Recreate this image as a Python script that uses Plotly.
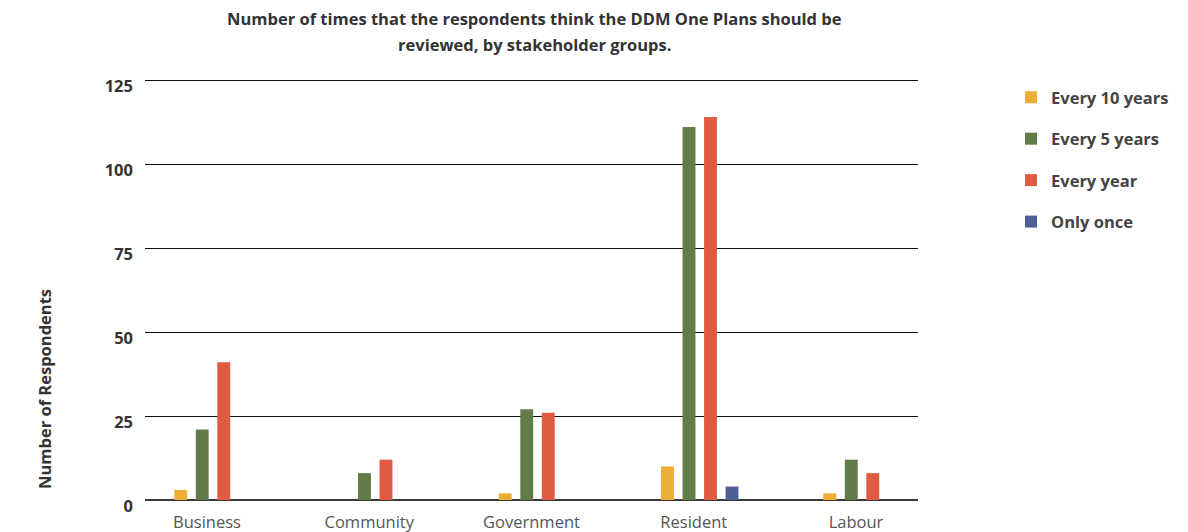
import plotly.graph_objects as go

# Stakeholder groups on the x axis
groups = ["Business", "Community", "Government", "Resident", "Labour"]

# Respondent counts per review frequency
every_10_years = [3, 0, 2, 10, 2]
every_5_years = [21, 8, 27, 111, 12]
every_year = [41, 12, 26, 114, 8]
only_once = [0, 0, 0, 4, 0]

series = [
    ("Every 10 years", every_10_years, "#EDAE36"),
    ("Every 5 years", every_5_years, "#627C48"),
    ("Every year", every_year, "#E05B42"),
    ("Only once", only_once, "#4E5F96"),
]

y_ticks = [0, 25, 50, 75, 100, 125]

title_lines = [
    "Number of times that the respondents think the DDM One Plans should be",
    "reviewed, by stakeholder groups.",
]

FONT = "'Open Sans', sans-serif"

fig = go.Figure()
for i, (name, vals, color) in enumerate(series):
    fig.add_trace(go.Bar(
        x=groups, y=vals, name=name,
        marker=dict(color=color, line=dict(width=0)),
        legendgroup=f"g{i}",
    ))

W, H = 1188, 532
left, right, top, bottom = 145, 918, 79, 500
plot_w, plot_h = right - left, bottom - top

fig.update_layout(
    width=W, height=H,
    paper_bgcolor="white", plot_bgcolor="white",
    barmode="group", bargap=0.47, bargroupgap=0.4,
    margin=dict(l=left, r=W - right, t=top, b=H - bottom, pad=0, autoexpand=False),
    font=dict(family=FONT, color="#333333"),
    xaxis=dict(
        range=[-0.419, 4.345],
        showgrid=False, zeroline=False,
        showline=False, ticks="",
        tickfont=dict(size=16.5, color="#555555", family=FONT),
        ticklabelstandoff=10,
        ticklabelshift=-6,
    ),
    yaxis=dict(
        range=[0, 125.3],
        tickvals=y_ticks,
        ticktext=[f"<b>{v}</b>" for v in y_ticks],
        showgrid=True, gridcolor="#111111", gridwidth=1,
        zeroline=True, zerolinecolor="#3a3a3a", zerolinewidth=1.8,
        showline=False, ticks="",
        tickfont=dict(size=16.5, color="#333333", family=FONT),
        ticklabelstandoff=11,
        ticklabelshift=6,
    ),
    legend=dict(
        x=(1011 - left) / plot_w, y=(bottom - 80) / plot_h,
        yanchor="top", xanchor="left",
        font=dict(size=16.5, color="#444444", family=FONT, weight="bold"),
        traceorder="grouped", tracegroupgap=17,
        itemwidth=30, bgcolor="rgba(0,0,0,0)",
    ),
)

# two-line chart heading
for k, line in enumerate(title_lines):
    fig.add_annotation(
        text=f"<b>{line}</b>",
        xref="paper", yref="paper",
        x=(534 - left) / plot_w, y=(bottom - (19 + 26 * k)) / plot_h,
        showarrow=False, xanchor="center", yanchor="middle",
        font=dict(size=16.5, color="#333333", family=FONT),
    )

fig.add_annotation(
    text="<b>Number of Respondents</b>", textangle=-90,
    xref="paper", yref="paper",
    x=-(left - 44) / plot_w, y=(bottom - 389) / plot_h,
    showarrow=False, xanchor="center", yanchor="middle",
    font=dict(size=16.5, color="#333333", family=FONT),
)

fig.write_html("out.html")
